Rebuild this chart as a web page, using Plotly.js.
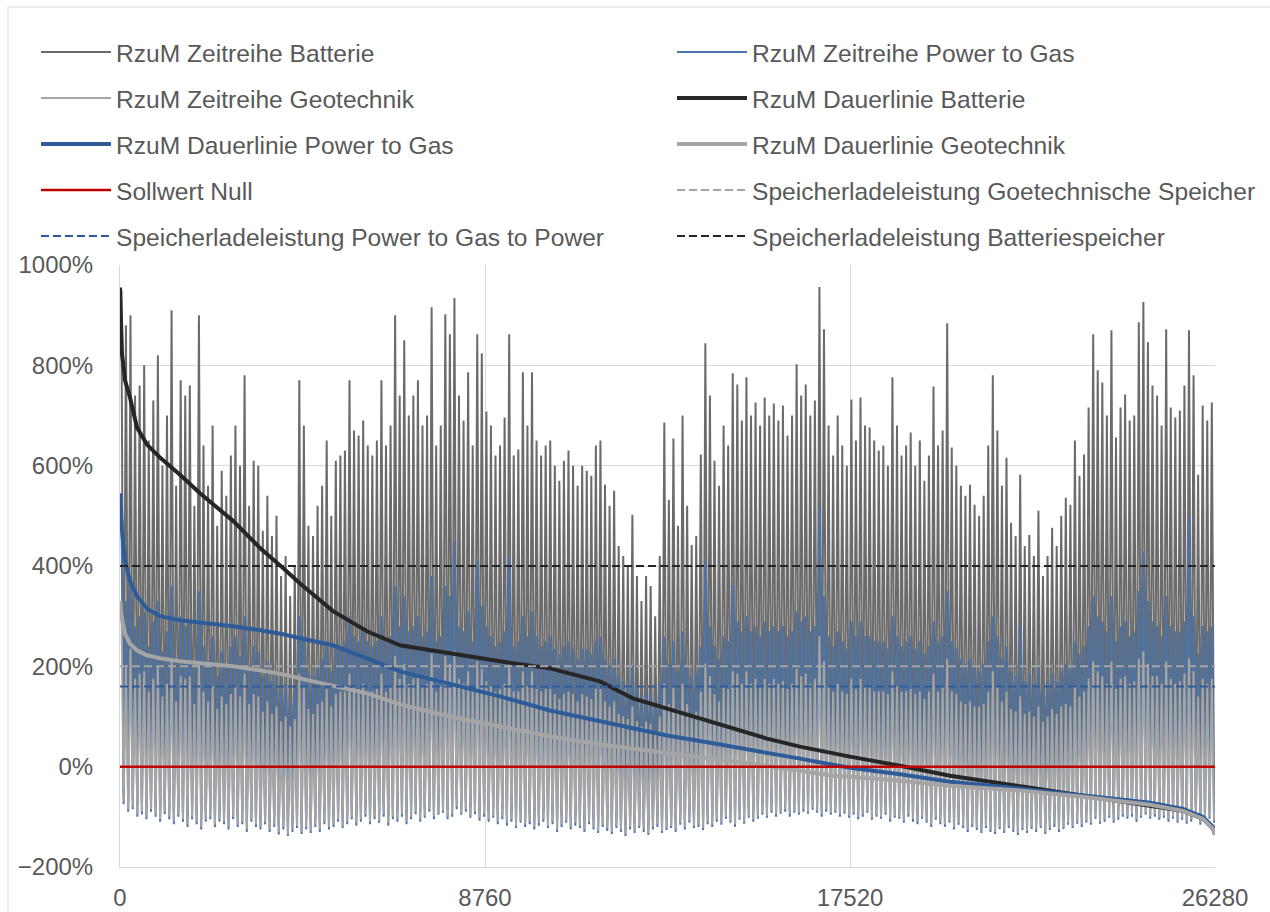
<!DOCTYPE html>
<html>
<head>
<meta charset="utf-8">
<script src="https://cdn.plot.ly/plotly-3.0.1.min.js"></script>
<style>html,body{margin:0;padding:0;background:#fff;}#chart{width:1270px;height:912px;}</style>
</head>
<body>
<div id="chart"></div>
<script>
// ---- data (values in %) ----
const xTickVals = [0, 8760, 17520, 26280];
const xTickText = ['0', '8760', '17520', '26280'];
const hoursTotal = 26280;

// time series, sampled spikes: peak and trough per sample period
const batHi = [
950,880,900,740,760,800,650,730,820,600,
700,910,560,770,740,760,520,900,640,560,
680,480,590,540,620,680,600,780,520,610,
600,470,540,460,500,380,420,340,400,770,
680,480,460,520,560,650,500,610,620,630,
770,670,660,690,640,620,650,770,640,680,
900,740,850,700,740,770,680,700,916,640,
680,902,862,934,740,690,786,640,862,824,
708,680,620,640,696,862,620,632,786,680,
786,650,620,640,650,600,570,610,630,600,
560,600,590,580,640,650,562,520,550,440,
420,400,502,380,330,380,360,300,420,686,
532,654,480,700,520,442,460,622,844,740,
610,560,680,640,784,762,690,776,700,726,
680,736,700,724,690,720,660,700,802,740,
762,700,730,956,872,680,620,700,640,600,
732,650,736,680,676,650,630,640,600,776,
680,620,640,666,600,650,570,620,758,640,
670,884,636,600,560,540,562,522,500,540,
640,780,670,560,616,486,460,582,440,462,
420,510,380,420,476,440,500,536,522,650,
580,622,716,862,790,766,700,870,656,716,
742,690,700,886,926,846,760,740,680,872,
716,696,710,760,870,780,582,720,690,726];
const batLo = [
-60,-70,-65,-80,-75,-85,-70,-80,-90,-75,
-85,-95,-80,-90,-100,-85,-95,-105,-90,-85,
-100,-90,-95,-105,-85,-100,-95,-110,-90,-100,
-105,-95,-110,-100,-115,-105,-118,-110,-102,-114,
-105,-112,-100,-110,-95,-105,-100,-90,-102,-95,
-85,-98,-90,-80,-95,-85,-92,-80,-98,-85,
-90,-80,-95,-85,-75,-90,-82,-70,-85,-76,
-72,-85,-80,-65,-76,-70,-82,-75,-88,-80,
-90,-82,-95,-85,-98,-90,-102,-92,-100,-95,
-105,-98,-90,-102,-95,-110,-100,-92,-105,-98,
-102,-110,-95,-105,-112,-100,-108,-114,-102,-110,
-118,-105,-112,-102,-110,-116,-105,-100,-112,-106,
-102,-110,-96,-105,-92,-102,-100,-106,-95,-100,
-90,-96,-84,-92,-100,-86,-94,-82,-90,-84,
-76,-82,-72,-80,-74,-70,-80,-72,-76,-70,
-74,-66,-72,-80,-70,-76,-72,-80,-74,-82,
-76,-85,-80,-72,-86,-80,-84,-76,-90,-82,
-84,-92,-80,-90,-95,-84,-92,-100,-86,-95,
-100,-92,-105,-96,-102,-110,-100,-106,-112,-102,
-110,-114,-104,-112,-102,-110,-116,-106,-112,-104,
-110,-102,-114,-106,-100,-110,-104,-96,-102,-94,
-100,-92,-96,-84,-94,-90,-82,-92,-86,-80,
-84,-80,-90,-82,-76,-84,-80,-86,-82,-90,
-84,-92,-86,-94,-90,-82,-96,-90,-84,-92];
const p2gHi = [
545,330,380,280,300,310,240,290,330,230,
270,360,210,300,280,290,200,350,240,210,
260,180,230,200,240,260,220,300,190,240,
230,180,210,170,190,150,165,130,160,300,
260,190,180,200,215,250,190,240,240,250,
300,260,250,270,250,240,250,300,250,260,
360,280,340,270,280,300,260,270,380,250,
260,360,340,450,280,270,310,250,410,320,
280,260,240,250,270,420,240,250,300,260,
310,260,240,250,260,235,225,240,250,235,
215,235,235,225,250,260,215,200,215,180,
170,160,200,155,140,155,145,120,170,260,
205,250,190,270,200,180,190,240,410,280,
240,215,260,250,360,290,270,300,270,280,
260,290,270,280,270,280,260,270,310,290,
300,270,280,520,340,260,240,270,250,235,
290,260,290,260,260,250,250,250,235,300,
260,240,250,260,235,250,225,240,290,250,
260,350,250,235,215,205,215,200,190,205,
250,300,260,215,240,190,180,280,170,185,
165,200,155,170,185,170,190,205,195,250,
225,240,280,340,300,290,270,340,250,280,
290,260,270,350,430,330,290,280,260,340,
280,270,270,290,500,300,225,280,270,280];
const p2gLo = [
-75,-90,-85,-100,-95,-105,-90,-100,-110,-95,
-105,-115,-100,-110,-120,-105,-115,-125,-110,-105,
-120,-110,-115,-125,-105,-120,-115,-130,-110,-120,
-125,-115,-130,-120,-135,-125,-138,-130,-122,-134,
-125,-132,-120,-130,-115,-125,-120,-110,-122,-115,
-105,-118,-110,-100,-115,-105,-112,-100,-118,-105,
-110,-100,-115,-105,-95,-110,-102,-90,-105,-96,
-92,-105,-100,-85,-96,-90,-102,-95,-108,-100,
-110,-102,-115,-105,-118,-110,-122,-112,-120,-115,
-125,-118,-110,-122,-115,-130,-120,-112,-125,-118,
-122,-130,-115,-125,-132,-120,-128,-134,-122,-130,
-138,-125,-132,-122,-130,-136,-125,-120,-132,-126,
-122,-130,-116,-125,-112,-122,-120,-126,-115,-120,
-110,-116,-104,-112,-120,-106,-114,-102,-110,-104,
-96,-102,-92,-100,-94,-90,-100,-92,-96,-90,
-94,-86,-92,-100,-90,-96,-92,-100,-94,-102,
-96,-105,-100,-92,-106,-100,-104,-96,-110,-102,
-104,-112,-100,-110,-115,-104,-112,-120,-106,-115,
-120,-112,-125,-116,-122,-130,-120,-126,-132,-122,
-130,-134,-124,-132,-122,-130,-136,-126,-132,-124,
-130,-122,-134,-126,-120,-130,-124,-116,-122,-114,
-120,-112,-116,-104,-114,-110,-102,-112,-106,-100,
-104,-100,-110,-102,-96,-104,-100,-106,-102,-110,
-104,-112,-106,-114,-110,-102,-116,-110,-104,-112];
const geoHi = [
330,200,235,175,185,190,150,175,200,140,
165,215,130,180,175,180,125,210,150,130,
160,115,140,125,145,160,140,185,125,145,
140,110,130,105,120,90,100,80,95,185,
160,115,105,125,130,155,120,145,150,150,
185,160,155,165,150,150,155,185,150,160,
220,175,205,165,175,185,160,165,225,150,
160,220,205,230,175,165,190,150,210,195,
170,160,150,155,165,210,150,150,190,160,
190,155,150,155,155,145,135,145,150,145,
130,145,140,135,155,155,130,120,130,105,
100,95,120,90,80,90,85,70,100,165,
125,160,115,165,125,105,110,150,205,180,
145,130,160,155,190,185,165,190,165,175,
160,175,165,175,165,170,155,165,195,180,
185,165,175,260,210,160,150,165,150,145,
175,155,175,160,160,150,150,150,145,190,
160,150,150,155,145,150,135,150,185,150,
160,215,150,145,130,125,130,120,120,125,
150,190,160,130,150,115,110,140,105,110,
100,120,90,100,115,105,120,125,120,160,
140,150,175,210,190,180,165,210,155,175,
180,165,170,215,230,205,180,180,165,210,
175,165,170,185,215,190,140,175,165,175];
const geoLo = [
-70,-85,-80,-95,-90,-100,-85,-95,-105,-90,
-100,-110,-95,-105,-115,-100,-110,-120,-105,-100,
-115,-105,-110,-120,-100,-115,-110,-125,-105,-115,
-120,-110,-125,-115,-130,-120,-135,-125,-118,-130,
-120,-128,-115,-125,-110,-120,-115,-105,-118,-110,
-100,-112,-105,-95,-110,-100,-108,-95,-112,-100,
-105,-95,-110,-100,-90,-105,-98,-85,-100,-92,
-88,-100,-95,-80,-92,-85,-98,-90,-102,-95,
-105,-98,-110,-100,-112,-105,-118,-108,-115,-110,
-120,-112,-105,-118,-110,-125,-115,-108,-120,-112,
-118,-125,-110,-120,-128,-115,-122,-130,-118,-125,
-134,-120,-128,-118,-125,-132,-120,-115,-128,-122,
-118,-125,-112,-120,-108,-118,-115,-122,-110,-115,
-105,-112,-100,-108,-115,-102,-110,-98,-105,-100,
-92,-98,-88,-95,-90,-85,-95,-88,-92,-85,
-90,-82,-88,-95,-85,-92,-88,-95,-90,-98,
-92,-100,-95,-88,-102,-95,-100,-92,-105,-98,
-100,-108,-95,-105,-110,-100,-108,-115,-102,-110,
-115,-108,-120,-112,-118,-125,-115,-122,-128,-118,
-125,-130,-120,-128,-118,-125,-132,-122,-128,-120,
-125,-118,-130,-122,-115,-125,-120,-112,-118,-110,
-115,-108,-112,-100,-110,-105,-98,-108,-102,-95,
-100,-95,-105,-98,-92,-100,-95,-102,-98,-105,
-100,-108,-102,-110,-105,-98,-112,-105,-100,-108];

// duration curves (sorted), sampled at hour ranks
const durHours = [0,24,48,96,120,240,408,648,960,1440,1920,2712,3360,3912,4320,5112,5928,6720,7920,9120,10320,11520,12312,13128,13920,14712,15528,16320,17112,17520,18720,19920,21528,23112,24720,25512,25992,26232,26280];
const durBat = [955,890,822,790,770,736,676,642,616,582,545,490,436,396,365,310,270,242,225,210,196,170,136,116,96,76,56,40,26,20,2,-18,-38,-58,-78,-88,-104,-124,-135];
const durP2g = [545,500,470,430,410,370,340,315,300,292,288,280,272,264,256,242,216,190,165,140,112,90,76,62,51,40,28,16,4,-2,-15,-30,-43,-57,-72,-84,-100,-120,-132];
const durGeo = [330,310,295,275,265,245,232,222,216,210,206,200,192,184,176,162,146,124,100,80,60,44,36,26,18,10,2,-8,-18,-20,-28,-38,-47,-60,-76,-88,-104,-124,-135];

const sollwert = [0, 0];
const ladeGeo = [200, 200];
const ladeP2g = [160, 160];
const ladeBat = [400, 400];

const names = [
  'RzuM Zeitreihe Batterie', 'RzuM Zeitreihe Power to Gas',
  'RzuM Zeitreihe Geotechnik', 'RzuM Dauerlinie Batterie',
  'RzuM Dauerlinie Power to Gas', 'RzuM Dauerlinie Geotechnik',
  'Sollwert Null', 'Speicherladeleistung Goetechnische Speicher',
  'Speicherladeleistung Power to Gas to Power', 'Speicherladeleistung Batteriespeicher'
];

// ---- build ----
function zig(hi, lo) {
  const step = hoursTotal / hi.length;
  const x = [], y = [];
  for (let i = 0; i < hi.length; i++) {
    x.push((i + 0.3) * step); y.push(hi[i]);
    x.push((i + 0.8) * step); y.push(lo[i]);
  }
  return {x, y};
}
const zb = zig(batHi, batLo), zp = zig(p2gHi, p2gLo), zg = zig(geoHi, geoLo);
const ends = [0, hoursTotal];

const C = {
  bat: '#6b6b6b', p2g: '#4a74aa', geo: '#a5a5a5',
  dBat: '#262626', dP2g: '#2e5c98', dGeo: '#a5a5a5', red: '#c00000'
};

const legendIds = ['legend','legend2','legend3','legend4','legend5','legend6','legend7','legend8','legend9','legend10'];

const traces = [
  {x: zb.x, y: zb.y, name: names[0], mode: 'lines', line: {color: C.bat, width: 2}},
  {x: zp.x, y: zp.y, name: names[1], mode: 'lines', line: {color: C.p2g, width: 2}},
  {x: zg.x, y: zg.y, name: names[2], mode: 'lines', line: {color: C.geo, width: 2}},
  {x: durHours, y: durBat, name: names[3], mode: 'lines', line: {color: C.dBat, width: 4}},
  {x: durHours, y: durP2g, name: names[4], mode: 'lines', line: {color: C.dP2g, width: 4}},
  {x: durHours, y: durGeo, name: names[5], mode: 'lines', line: {color: C.dGeo, width: 4}},
  {x: ends, y: sollwert, name: names[6], mode: 'lines', line: {color: C.red, width: 2.5}},
  {x: ends, y: ladeGeo, name: names[7], mode: 'lines', line: {color: '#a5a5a5', width: 2, dash: '8px,4px'}},
  {x: ends, y: ladeP2g, name: names[8], mode: 'lines', line: {color: C.dP2g, width: 2, dash: '8px,4px'}},
  {x: ends, y: ladeBat, name: names[9], mode: 'lines', line: {color: C.dBat, width: 2, dash: '8px,4px'}}
];
traces.forEach((t, i) => { t.legend = legendIds[i]; t.showlegend = true; });

const plotL = 120, plotR = 1215, plotT = 265, plotB = 867;
const W = 1270, H = 912;
const pw = plotR - plotL, ph = plotB - plotT;
function px2paperX(px) { return (px - plotL) / pw; }
function px2paperY(py) { return (plotB - py) / ph; }

const legFont = {family: 'Liberation Sans, Arial, sans-serif', size: 24.6, color: '#595959'};
const rowsY = [52, 98, 144, 190, 236];
const colsX = [36, 672];
function mkLegend(i) {
  return {
    orientation: 'h', x: px2paperX(colsX[i % 2]), y: px2paperY(rowsY[Math.floor(i / 2)]),
    xanchor: 'left', yanchor: 'middle', font: legFont,
    bgcolor: 'rgba(0,0,0,0)', borderwidth: 0, itemwidth: 70, itemclick: false
  };
}

const layout = {
  width: W, height: H,
  margin: {l: plotL, r: W - plotR, t: plotT, b: H - plotB, pad: 0, autoexpand: false},
  paper_bgcolor: '#ffffff', plot_bgcolor: '#ffffff',
  showlegend: true,
  font: {family: 'Liberation Sans, Arial, sans-serif', color: '#595959'},
  xaxis: {
    range: [0, hoursTotal], tickvals: xTickVals, ticktext: xTickText,
    showgrid: true, gridcolor: '#d9d9d9', gridwidth: 1, zeroline: false,
    showline: true, linecolor: '#d9d9d9', linewidth: 1, ticks: '',
    tickfont: {family: 'Liberation Sans, Arial, sans-serif', size: 24, color: '#595959'},
    ticklabelstandoff: 9, automargin: false
  },
  yaxis: {
    range: [-200, 1000], dtick: 200, tick0: 0, ticksuffix: '%',
    showgrid: true, gridcolor: '#d9d9d9', gridwidth: 1, zeroline: false,
    showline: true, linecolor: '#d9d9d9', linewidth: 1, ticks: '',
    tickfont: {family: 'Liberation Sans, Arial, sans-serif', size: 24, color: '#595959'},
    ticklabelstandoff: 21, automargin: false
  },
  shapes: [{
    type: 'rect', xref: 'paper', yref: 'paper',
    x0: px2paperX(8), x1: px2paperX(1300), y0: px2paperY(940), y1: px2paperY(7),
    line: {color: '#d9d9d9', width: 1}, fillcolor: 'rgba(0,0,0,0)', layer: 'below'
  }]
};
legendIds.forEach((id, i) => { layout[id] = mkLegend(i); });

Plotly.newPlot('chart', traces, layout, {staticPlot: true, displayModeBar: false});
</script>
</body>
</html>
